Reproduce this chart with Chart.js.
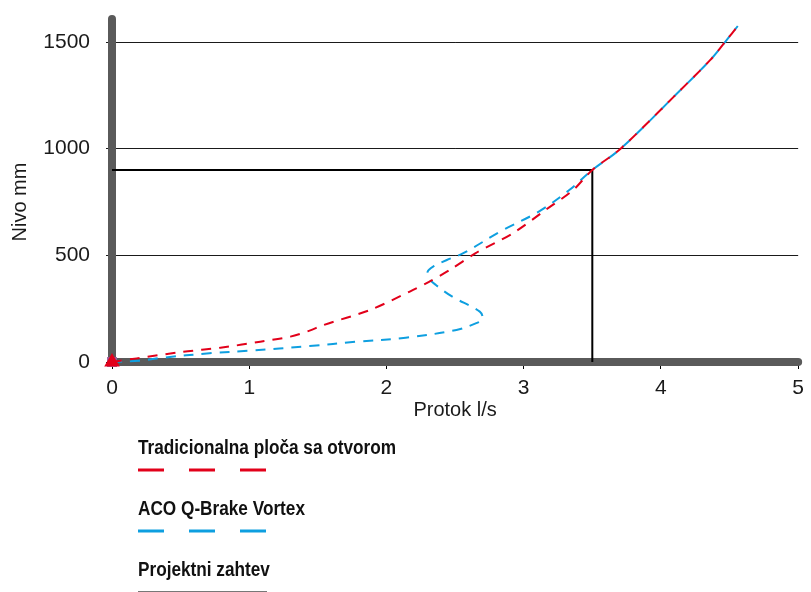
<!DOCTYPE html>
<html>
<head>
<meta charset="utf-8">
<script src="https://cdn.jsdelivr.net/npm/chart.js@4/dist/chart.umd.min.js"></script>
<style>
    body { margin: 0; background: #fff; }
    #wrap { position: relative; width: 811px; height: 592px; }
</style>
</head>
<body>
<div id="wrap"><canvas id="chart"></canvas></div>
<script>
// Protok (l/s) / Nivo (mm)
const orificeQ = [0, 0.18, 0.52, 0.79, 1.08, 1.30, 1.44, 1.54, 1.88, 2.17, 2.31, 2.46, 2.65, 2.92, 3.16, 3.36, 3.50, 3.71, 4.13, 4.36, 4.47, 4.56];
const orificeH = [0, 17, 48, 67, 95, 119, 147, 173, 244, 330, 376, 431, 510, 603, 713, 806, 900, 1002, 1267, 1416, 1502, 1575];

const vortexQ = [0, 0.2, 0.37, 0.71, 1.0, 1.44, 1.78, 2.14, 2.51, 2.65, 2.70, 2.68, 2.48, 2.36, 2.31, 2.30, 2.34, 2.44, 2.56, 2.85, 3.11, 3.33, 3.50, 3.71, 4.13, 4.36, 4.47, 4.56];
const vortexH = [0, 6, 20, 41, 53, 75, 95, 114, 150, 181, 200, 236, 306, 361, 392, 423, 447, 478, 510, 619, 705, 805, 900, 1002, 1267, 1416, 1502, 1575];

// design point
const designQ = [0, 3.5, 3.5];
const designH = [900, 900, 0];

const seriesLabels = ['Tradicionalna ploča sa otvorom', 'ACO Q-Brake Vortex', 'Projektni zahtev'];

const xTicks = [0, 1, 2, 3, 4, 5];
const yTicks = [0, 500, 1000, 1500];

const RED = '#e2001a';
const BLUE = '#0e9fe0';
const AXIS = '#5a5a5a';
const FONT = '"Liberation Sans", Arial, sans-serif';

function pairs(xs, ys) {
    return xs.map(function (x, i) { return {x: x, y: ys[i]}; });
}

// thick grey axes under the curves, y one runs a bit past the top
const axesPlugin = {
    id: 'axes',
    beforeDatasetsDraw(chart) {
        const a = chart.chartArea;
        const ctx = chart.ctx;
        ctx.save();
        ctx.strokeStyle = AXIS;
        ctx.lineWidth = 8;
        ctx.lineCap = 'round';
        ctx.beginPath();
        ctx.moveTo(a.left, a.top - 23);
        ctx.lineTo(a.left, a.bottom);
        ctx.lineTo(a.right, a.bottom);
        ctx.stroke();
        ctx.restore();
    }
};

// legend stacked under the chart: bold condensed label, sample line below
const legendPlugin = {
    id: 'stackLegend',
    afterDraw(chart) {
        const ctx = chart.ctx;
        const x0 = 138, y0 = 454, step = 61;
        chart.data.datasets.forEach(function (ds, i) {
            const y = y0 + i * step;
            ctx.save();
            ctx.translate(x0, y);
            ctx.scale(0.86, 1);
            ctx.font = 'bold 20px ' + FONT;
            ctx.fillStyle = '#111';
            ctx.textBaseline = 'alphabetic';
            ctx.fillText(ds.label, 0, 0);
            ctx.restore();

            ctx.save();
            ctx.beginPath();
            if (ds.legendDash) {
                ctx.setLineDash(ds.legendDash);
                ctx.lineWidth = 3;
                ctx.strokeStyle = ds.borderColor;
                ctx.moveTo(x0, y + 16);
                ctx.lineTo(x0 + 128, y + 16);
            } else {
                ctx.lineWidth = 1;
                ctx.strokeStyle = '#777';
                ctx.moveTo(x0, y + 15.5);
                ctx.lineTo(x0 + 129, y + 15.5);
            }
            ctx.stroke();
            ctx.restore();
        });
    }
};

new Chart(document.getElementById('chart'), {
    type: 'scatter',
    data: {
        datasets: [
            {
                label: seriesLabels[0],
                data: pairs(orificeQ, orificeH),
                showLine: true,
                borderColor: RED,
                backgroundColor: RED,
                borderWidth: 2,
                borderDash: [10, 8],
                legendDash: [26, 25],
                tension: 0.3,
                pointStyle: 'triangle',
                pointRadius: orificeQ.map(function (v, i) { return i === 0 ? 9 : 0; }),
                pointBorderWidth: 0,
                clip: false,
                order: 1
            },
            {
                label: seriesLabels[1],
                data: pairs(vortexQ, vortexH),
                showLine: true,
                borderColor: BLUE,
                backgroundColor: '#9a5c9c',
                borderWidth: 2,
                borderDash: [10, 8],
                legendDash: [26, 25],
                tension: 0.35,
                pointStyle: 'rect',
                pointRadius: vortexQ.map(function (v, i) { return i === 0 ? 7 : 0; }),
                pointBorderWidth: 0,
                clip: false,
                order: 2
            },
            {
                label: seriesLabels[2],
                data: pairs(designQ, designH),
                showLine: true,
                borderColor: '#000',
                borderWidth: 2,
                pointRadius: 0,
                tension: 0,
                clip: false,
                order: 3
            }
        ]
    },
    options: {
        responsive: true,
        maintainAspectRatio: false,
        animation: false,
        layout: {padding: {top: 42, right: 12, bottom: 170, left: 0}},
        plugins: {
            legend: {display: false},
            tooltip: {enabled: false}
        },
        scales: {
            x: {
                type: 'linear',
                min: 0,
                max: 5,
                afterBuildTicks: function (axis) {
                    axis.ticks = xTicks.map(function (v) { return {value: v}; });
                },
                afterFit: function (axis) { axis.height = 60; },
                border: {display: false},
                grid: {drawOnChartArea: false, color: '#000', tickLength: 7, lineWidth: 1},
                ticks: {
                    color: '#1a1a1a',
                    padding: 7,
                    font: {family: FONT, size: 21}
                },
                title: {
                    display: true,
                    text: 'Protok l/s',
                    color: '#1a1a1a',
                    padding: 0,
                    font: {family: FONT, size: 20}
                }
            },
            y: {
                type: 'linear',
                min: 0,
                max: 1500,
                afterBuildTicks: function (axis) {
                    axis.ticks = yTicks.map(function (v) { return {value: v}; });
                },
                afterFit: function (axis) { axis.width = 112; },
                border: {display: false},
                grid: {color: '#1a1a1a', lineWidth: 1, tickLength: 6},
                ticks: {
                    color: '#1a1a1a',
                    padding: 16,
                    font: {family: FONT, size: 21},
                    callback: function (v) { return String(v); }
                },
                title: {
                    display: true,
                    text: 'Nivo mm',
                    color: '#1a1a1a',
                    padding: {top: 8, bottom: 0},
                    font: {family: FONT, size: 20}
                }
            }
        }
    },
    plugins: [axesPlugin, legendPlugin]
});
</script>
</body>
</html>
